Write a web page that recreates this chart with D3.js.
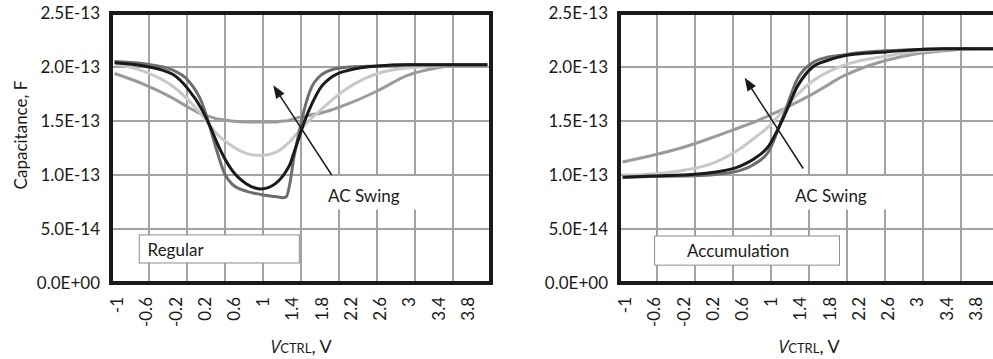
<!DOCTYPE html>
<html>
<head>
<meta charset="utf-8">
<script src="https://cdn.jsdelivr.net/npm/d3@7.9.0/dist/d3.min.js"></script>
<style>
  body { margin: 0; background: #fff; }
  text { font-family: Lato, "Open Sans", sans-serif; fill: #1a1a1a; }
</style>
</head>
<body>
<div id="chart"></div>
<script>
// tick labels
const vTicks = [-1, -0.6, -0.2, 0.2, 0.6, 1, 1.4, 1.8, 2.2, 2.6, 3, 3.4, 3.8];
const cTicks = [0, 0.5, 1, 1.5, 2, 2.5];   // in units of 1E-13 F

// left panel "Regular" (C in 1E-13 F)
const regV      = [-1, -0.6, -0.2, 0, 0.2, 0.3, 0.4, 0.5, 0.6, 0.8, 1.0, 1.2, 1.3, 1.35, 1.4, 1.45, 1.5, 1.6, 1.7, 1.8, 2.0, 2.2, 2.6, 3.0, 3.4, 3.8, 4.1];
const regMid    = [1.94, 1.84, 1.71, 1.63, 1.56, 1.54, 1.52, 1.51, 1.50, 1.49, 1.49, 1.49, 1.50, 1.50, 1.51, 1.52, 1.53, 1.54, 1.56, 1.57, 1.61, 1.66, 1.78, 1.92, 1.99, 2.02, 2.02];
const regLight  = [2.03, 1.96, 1.82, 1.70, 1.55, 1.46, 1.38, 1.32, 1.27, 1.20, 1.18, 1.21, 1.25, 1.28, 1.31, 1.35, 1.39, 1.46, 1.53, 1.59, 1.71, 1.81, 1.94, 1.99, 2.01, 2.02, 2.02];
const regDark   = [2.05, 2.03, 1.97, 1.88, 1.66, 1.45, 1.22, 1.02, 0.92, 0.85, 0.82, 0.80, 0.79, 0.80, 0.93, 1.15, 1.32, 1.62, 1.82, 1.91, 1.98, 2.00, 2.01, 2.02, 2.02, 2.02, 2.02];
const regBlack  = [2.04, 2.01, 1.93, 1.80, 1.60, 1.46, 1.30, 1.16, 1.05, 0.92, 0.87, 0.92, 0.99, 1.04, 1.10, 1.20, 1.30, 1.50, 1.66, 1.79, 1.92, 1.97, 2.01, 2.02, 2.02, 2.02, 2.02];

// right panel "Accumulation"
const accV      = [-1, -0.6, -0.2, 0.2, 0.6, 0.8, 1.0, 1.2, 1.4, 1.6, 1.8, 2.0, 2.2, 2.6, 3.0, 3.4, 3.8, 4.1];
const accMid    = [1.12, 1.18, 1.25, 1.34, 1.44, 1.49, 1.55, 1.61, 1.68, 1.75, 1.83, 1.91, 1.97, 2.06, 2.12, 2.15, 2.17, 2.17];
const accLight  = [1.00, 1.01, 1.04, 1.10, 1.24, 1.34, 1.45, 1.60, 1.75, 1.87, 1.95, 2.01, 2.05, 2.10, 2.14, 2.16, 2.17, 2.17];
const accDark   = [0.98, 0.985, 0.99, 1.00, 1.04, 1.10, 1.22, 1.55, 1.90, 2.04, 2.09, 2.11, 2.13, 2.15, 2.16, 2.17, 2.17, 2.17];
const accBlack  = [0.98, 0.99, 1.00, 1.02, 1.08, 1.15, 1.27, 1.53, 1.83, 2.00, 2.06, 2.10, 2.12, 2.14, 2.16, 2.17, 2.17, 2.17];

const COLORS = { mid: '#9b9b9b', light: '#c8c8c8', dark: '#6e6e6e', black: '#1a1a1a' };

const W = 993, H = 359;
const PLOT = { top: 13, bottom: 283, width: 380 };

const svg = d3.select('#chart').append('svg')
  .attr('width', W)
  .attr('height', H);

function fmtE(d) {
  if (d === 0) return '0.0E+00';
  return (d * 1e-13).toExponential(1).toUpperCase();
}

function drawPanel(left, v, series, label, ann) {
  const x = d3.scaleLinear().domain([-1.05, 4.15]).range([left, left + PLOT.width]);
  const grid = d3.scaleLinear().domain([0, 10]).range([left, left + PLOT.width]);
  const y = d3.scaleLinear().domain([0, 2.5]).range([PLOT.bottom, PLOT.top]);
  const g = svg.append('g');

  // gridlines
  g.selectAll('.vgrid').data(d3.range(1, 10)).join('line')
    .attr('x1', d => grid(d)).attr('x2', d => grid(d))
    .attr('y1', PLOT.top).attr('y2', PLOT.bottom)
    .attr('stroke', '#a3a3a3').attr('stroke-width', 2);
  g.selectAll('.hgrid').data(cTicks.slice(1, -1)).join('line')
    .attr('x1', left).attr('x2', left + PLOT.width)
    .attr('y1', d => y(d)).attr('y2', d => y(d))
    .attr('stroke', '#a3a3a3').attr('stroke-width', 2);

  // curves
  const line = d3.line()
    .x((d, i) => x(v[i]))
    .y(d => y(d))
    .curve(d3.curveMonotoneX);
  series.forEach(s => {
    g.append('path')
      .datum(s.values)
      .attr('d', line)
      .attr('fill', 'none')
      .attr('stroke', s.color)
      .attr('stroke-width', 3)
      .attr('stroke-linejoin', 'round');
  });

  // "AC Swing" box + arrow
  g.append('rect')
    .attr('x', x(ann.box[0])).attr('y', y(ann.box[1]))
    .attr('width', x(ann.box[2]) - x(ann.box[0]))
    .attr('height', y(ann.box[3]) - y(ann.box[1]))
    .attr('fill', '#fff');
  g.append('text')
    .attr('x', x(ann.text[0])).attr('y', y(ann.text[1]))
    .attr('font-size', 17)
    .text('AC Swing');
  const x1 = x(ann.arrow[0]), y1 = y(ann.arrow[1]);
  const x2 = x(ann.arrow[2]), y2 = y(ann.arrow[3]);
  const ang = Math.atan2(y2 - y1, x2 - x1);
  const hl = 13, hw = 5;
  g.append('line')
    .attr('x1', x1).attr('y1', y1)
    .attr('x2', x2 - Math.cos(ang) * hl * 0.8).attr('y2', y2 - Math.sin(ang) * hl * 0.8)
    .attr('stroke', '#1a1a1a').attr('stroke-width', 1.5);
  const bx = x2 - Math.cos(ang) * hl, by = y2 - Math.sin(ang) * hl;
  g.append('path')
    .attr('d', `M${x2},${y2}L${bx - Math.sin(ang) * hw},${by + Math.cos(ang) * hw}L${bx + Math.sin(ang) * hw},${by - Math.cos(ang) * hw}Z`)
    .attr('fill', '#1a1a1a');

  // label box
  g.append('rect')
    .attr('x', x(label.box[0]) + 0.5).attr('y', y(label.box[1]) + 0.5)
    .attr('width', x(label.box[2]) - x(label.box[0]))
    .attr('height', y(label.box[3]) - y(label.box[1]))
    .attr('fill', '#fff').attr('stroke', '#8c8c8c').attr('stroke-width', 1);
  g.append('text')
    .attr('x', x(label.text[0])).attr('y', y(label.text[1]))
    .attr('font-size', 17)
    .text(label.name);

  // frame
  g.append('rect')
    .attr('x', left).attr('y', PLOT.top)
    .attr('width', PLOT.width).attr('height', PLOT.bottom - PLOT.top)
    .attr('fill', 'none').attr('stroke', '#1a1a1a').attr('stroke-width', 4);

  // axes
  const yAxis = g.append('g')
    .attr('transform', `translate(${left},0)`)
    .call(d3.axisLeft(y).tickValues(cTicks).tickSize(0).tickPadding(11).tickFormat(fmtE));
  yAxis.select('.domain').remove();
  yAxis.selectAll('text').attr('font-size', 17).attr('font-family', null).style('fill', '#1a1a1a');

  const xAxis = g.append('g')
    .attr('transform', `translate(0,${PLOT.bottom})`)
    .call(d3.axisBottom(x).tickValues(vTicks).tickSize(0).tickFormat(d => String(d)));
  xAxis.select('.domain').remove();
  xAxis.selectAll('text')
    .attr('transform', 'rotate(-90)')
    .attr('x', -14).attr('y', 2).attr('dy', '0.35em')
    .attr('text-anchor', 'end')
    .attr('font-size', 17).attr('font-family', null).style('fill', '#1a1a1a');

  // x title
  const t = g.append('text')
    .attr('x', left + PLOT.width / 2).attr('y', 353)
    .attr('text-anchor', 'middle')
    .attr('font-size', 18);
  t.append('tspan').attr('font-style', 'italic').style('font-family', '"Open Sans", "Liberation Sans", sans-serif').text('V');
  t.append('tspan').attr('font-size', 13).text('CTRL');
  t.append('tspan').text(', V');
}

drawPanel(111, regV, [
  { values: regMid, color: COLORS.mid },
  { values: regLight, color: COLORS.light },
  { values: regDark, color: COLORS.dark },
  { values: regBlack, color: COLORS.black }
], { name: 'Regular', box: [-0.67, 0.45, 1.52, 0.19], text: [-0.55, 0.25] },
   { box: [1.74, 0.99, 3.18, 0.68], text: [1.92, 0.75], arrow: [1.97, 1.0, 1.17, 1.83] });

drawPanel(619, accV, [
  { values: accMid, color: COLORS.mid },
  { values: accLight, color: COLORS.light },
  { values: accDark, color: COLORS.dark },
  { values: accBlack, color: COLORS.black }
], { name: 'Accumulation', box: [-0.57, 0.44, 1.96, 0.17], text: [-0.12, 0.24] },
   { box: [1.22, 0.99, 2.7, 0.68], text: [1.36, 0.75], arrow: [1.47, 1.06, 0.67, 1.90] });

// y title
svg.append('text')
  .attr('transform', 'translate(27,135) rotate(-90)')
  .attr('text-anchor', 'middle')
  .attr('font-size', 17)
  .text('Capacitance, F');
</script>
</body>
</html>
